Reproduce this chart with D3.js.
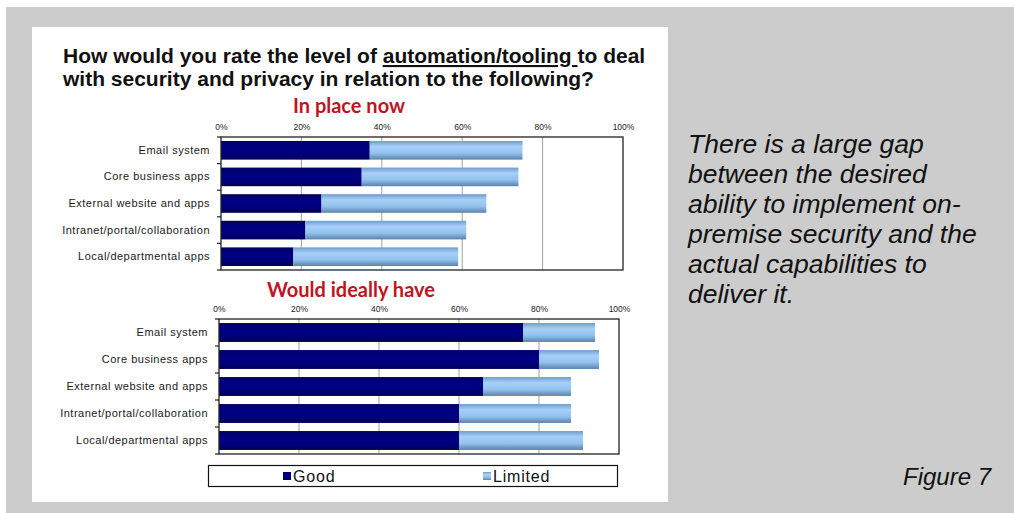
<!DOCTYPE html>
<html>
<head>
<meta charset="utf-8">
<script src="https://cdn.jsdelivr.net/npm/d3@7"></script>
<style>
  html, body { margin: 0; padding: 0; background: #ffffff; }
  svg { display: block; }
</style>
</head>
<body>
<svg id="chart" width="1014" height="513"></svg>
<script>
// Survey categories (top to bottom)
const categories = [
  "Email system",
  "Core business apps",
  "External website and apps",
  "Intranet/portal/collaboration",
  "Local/departmental apps"
];

// "In place now" panel, percent of respondents
const nowGood = [37, 35, 25, 21, 18];
const nowLimited = [38, 39, 41, 40, 41];

// "Would ideally have" panel, percent of respondents
const idealGood = [76, 80, 66, 60, 60];
const idealLimited = [18, 15, 22, 28, 31];

const tickValues = [0, 20, 40, 60, 80, 100];
const seriesNames = ["Good", "Limited"];

const svg = d3.select("#chart");

// Grey page background with the white chart panel
svg.append("rect").attr("x", 6).attr("y", 7).attr("width", 1008).attr("height", 506).attr("fill", "#cccccc");
svg.append("rect").attr("x", 32).attr("y", 27).attr("width", 636).attr("height", 475).attr("fill", "#ffffff");

// Bar gradients
const defs = svg.append("defs");
const gNavy = defs.append("linearGradient").attr("id", "gradGood").attr("x1", 0).attr("x2", 0).attr("y1", 0).attr("y2", 1);
gNavy.append("stop").attr("offset", "0%").attr("stop-color", "#00005e");
gNavy.append("stop").attr("offset", "35%").attr("stop-color", "#000085");
gNavy.append("stop").attr("offset", "75%").attr("stop-color", "#00007a");
gNavy.append("stop").attr("offset", "100%").attr("stop-color", "#000050");
const gLight = defs.append("linearGradient").attr("id", "gradLimited").attr("x1", 0).attr("x2", 0).attr("y1", 0).attr("y2", 1);
gLight.append("stop").attr("offset", "0%").attr("stop-color", "#6f9cc9");
gLight.append("stop").attr("offset", "30%").attr("stop-color", "#a6d0fa");
gLight.append("stop").attr("offset", "65%").attr("stop-color", "#94c2ee");
gLight.append("stop").attr("offset", "100%").attr("stop-color", "#5b83ab");

const fills = { Good: "url(#gradGood)", Limited: "url(#gradLimited)" };

// Title with underlined phrase
const title = svg.append("text")
  .attr("font-family", "Liberation Sans, Arial, sans-serif")
  .attr("font-weight", "bold")
  .attr("font-size", 21)
  .attr("fill", "#111");
const t1 = title.append("tspan").attr("x", 63).attr("y", 63);
t1.append("tspan").text("How would you rate the level of ");
t1.append("tspan").attr("text-decoration", "underline").text("automation/tooling ");
t1.append("tspan").text("to deal");
title.append("tspan").attr("x", 63).attr("y", 86).text("with security and privacy in relation to the following?");

function drawPanel(cfg) {
  const { x0, x1, y0, y1, good, limited, subtitle, subX, subY } = cfg;
  const x = d3.scaleLinear().domain([0, 100]).range([x0, x1]);
  const y = d3.scaleBand().domain(categories).range([y0, y1]).paddingInner(0.3).paddingOuter(0.15);
  const g = svg.append("g");

  // Subtitle
  g.append("text")
    .attr("x", subX)
    .attr("y", subY)
    .attr("text-anchor", "middle")
    .attr("font-family", "Lato, Open Sans, sans-serif")
    .attr("font-weight", "bold")
    .attr("font-size", 20)
    .attr("fill", "#c0141e")
    .text(subtitle);

  // Vertical gridlines
  g.append("g").selectAll("line")
    .data(tickValues.filter(v => v > 0 && v < 100))
    .join("line")
    .attr("x1", d => x(d)).attr("x2", d => x(d))
    .attr("y1", y0).attr("y2", y1)
    .attr("stroke", "#a0a0a0").attr("stroke-width", 1);

  // Stacked bars
  const rows = categories.map((c, i) => ({ cat: c, Good: good[i], Limited: limited[i] }));
  const stacked = d3.stack().keys(seriesNames)(rows);
  g.append("g").selectAll("g")
    .data(stacked)
    .join("g")
    .attr("fill", d => fills[d.key])
    .selectAll("rect")
    .data(d => d)
    .join("rect")
    .attr("x", d => x(d[0]))
    .attr("width", d => x(d[1]) - x(d[0]))
    .attr("y", d => y(d.data.cat))
    .attr("height", y.bandwidth());

  // Top axis with percent labels
  const topAxis = d3.axisTop(x).tickValues(tickValues).tickFormat(d => d + "%").tickSize(0).tickPadding(7);
  const ax = g.append("g").attr("transform", `translate(0,${y0})`).call(topAxis);
  ax.select(".domain").remove();
  ax.selectAll("text")
    .attr("font-family", "Liberation Sans, Arial, sans-serif")
    .attr("font-size", 8.5)
    .attr("fill", "#222");

  // Left axis with category labels and ticks at band boundaries
  const leftAxis = d3.axisLeft(y).tickSize(0).tickPadding(11);
  const ay = g.append("g").attr("transform", `translate(${x0},0)`).call(leftAxis);
  ay.select(".domain").remove();
  ay.selectAll("text")
    .attr("font-family", "Liberation Sans, Arial, sans-serif")
    .attr("font-size", 11)
    .attr("letter-spacing", 0.5)
    .attr("fill", "#1a1a1a");
  const step = y.step();
  const bounds = d3.range(categories.length + 1).map(i => i === 0 ? y0 : (i === categories.length ? y1 : y(categories[i]) - step * 0.15));
  g.append("g").selectAll("line")
    .data(bounds)
    .join("line")
    .attr("x1", x0 - 4).attr("x2", x0)
    .attr("y1", d => d).attr("y2", d => d)
    .attr("stroke", "#222").attr("stroke-width", 1.2);

  // Plot frame
  g.append("rect")
    .attr("x", x0).attr("y", y0)
    .attr("width", x1 - x0).attr("height", y1 - y0)
    .attr("fill", "none").attr("stroke", "#222").attr("stroke-width", 1.3);
}

drawPanel({ x0: 221, x1: 623, y0: 137, y1: 270, good: nowGood, limited: nowLimited, subtitle: "In place now", subX: 349, subY: 113 });
drawPanel({ x0: 219, x1: 619, y0: 319, y1: 454, good: idealGood, limited: idealLimited, subtitle: "Would ideally have", subX: 351, subY: 297 });

// Legend
const legend = svg.append("g");
legend.append("rect").attr("x", 208.5).attr("y", 465.5).attr("width", 409).attr("height", 21)
  .attr("fill", "#fff").attr("stroke", "#111").attr("stroke-width", 1.2);
const legendX = [283, 483];
seriesNames.forEach((name, i) => {
  legend.append("rect").attr("x", legendX[i]).attr("y", 472).attr("width", 8).attr("height", 8).attr("fill", fills[name]);
  legend.append("text").attr("x", legendX[i] + 10).attr("y", 482)
    .attr("font-family", "Liberation Sans, Arial, sans-serif")
    .attr("font-size", 16).attr("letter-spacing", 0.8).attr("fill", "#111").text(name);
});

// Commentary on the right
const note = ["There is a large gap", "between the desired", "ability to implement on-",
  "premise security and the", "actual capabilities to", "deliver it."];
svg.append("text")
  .attr("font-family", "Liberation Sans, Arial, sans-serif")
  .attr("font-style", "italic")
  .attr("font-size", 26.5)
  .attr("fill", "#111")
  .selectAll("tspan")
  .data(note)
  .join("tspan")
  .attr("x", 688)
  .attr("y", (d, i) => 153 + i * 30)
  .text(d => d);

svg.append("text")
  .attr("x", 903).attr("y", 485)
  .attr("font-family", "Liberation Sans, Arial, sans-serif")
  .attr("font-style", "italic")
  .attr("font-size", 24)
  .attr("fill", "#111")
  .text("Figure 7");
</script>
</body>
</html>
